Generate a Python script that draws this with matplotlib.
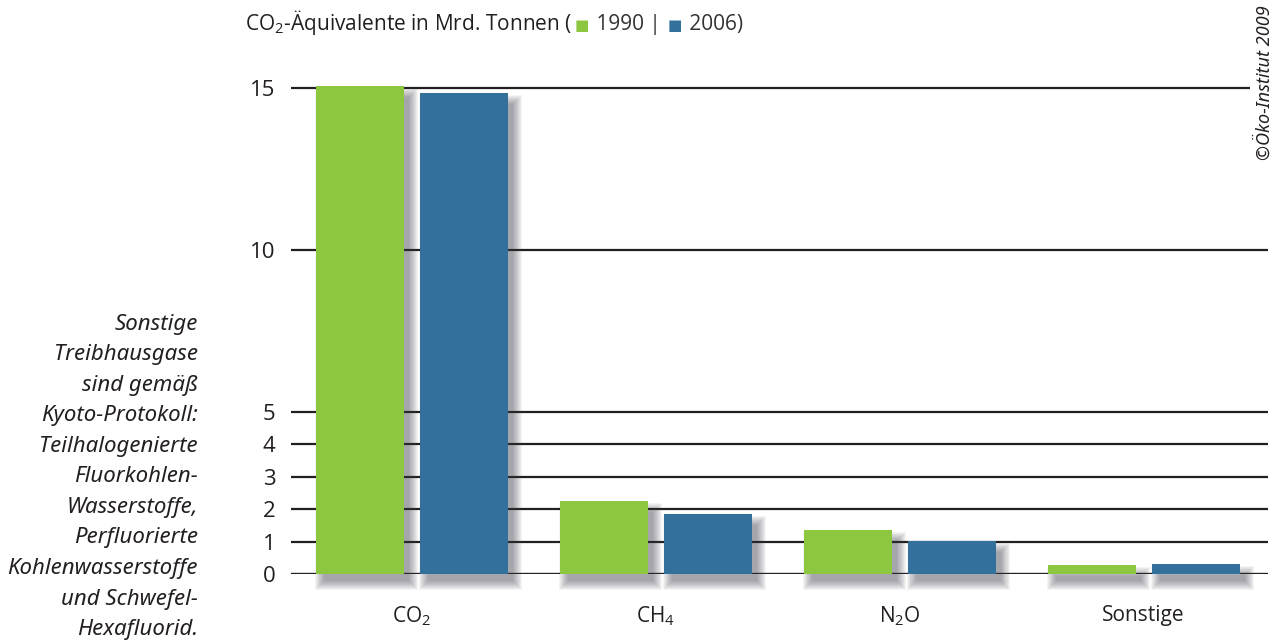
import numpy as np
import matplotlib
matplotlib.use('Agg')
import matplotlib.pyplot as plt
from matplotlib.patches import Rectangle

# data
categories = ['CO$_\\mathrm{2}$', 'CH$_\\mathrm{4}$', 'N$_\\mathrm{2}$O', 'Sonstige']
years = ['1990', '2006']
values_1990 = [15.06, 2.25, 1.36, 0.28]
values_2006 = [14.84, 1.85, 1.02, 0.31]
yticks = [0, 1, 2, 3, 4, 5, 10, 15]
side_note = ['Sonstige', 'Treibhausgase', 'sind gemäß', 'Kyoto-Protokoll:',
             'Teilhalogenierte', 'Fluorkohlen-', 'Wasserstoffe,', 'Perfluorierte',
             'Kohlenwasserstoffe', 'und Schwefel-', 'Hexafluorid.']

c_green = '#8dc63f'
c_blue = '#33709b'
c_dark = '#231f20'

plt.rcParams['font.family'] = ['Open Sans', 'DejaVu Sans']
plt.rcParams['mathtext.fontset'] = 'custom'
plt.rcParams['mathtext.rm'] = 'Open Sans'
plt.rcParams['mathtext.it'] = 'Open Sans:italic'
plt.rcParams['mathtext.bf'] = 'Open Sans:bold'

W, H = 1276, 641
fig = plt.figure(figsize=(W / 100, H / 100), dpi=100)

# axes in pixel terms
x0px, x1px = 291, 1268
y0px = 574
pxy = 32.4           # pixel per unit
ytop = 15.5
ax = fig.add_axes([x0px / W, (H - y0px) / H, (x1px - x0px) / W, ytop * pxy / H])

spacing = 244.0      # group spacing in px
xl = (x0px - 411.5) / spacing
xr = (x1px - 411.5) / spacing
ax.set_xlim(xl, xr)
ax.set_ylim(0, ytop)

width = 88 / spacing
off = 52 / spacing
x = np.arange(len(categories))

# gridlines
for t in yticks:
    ax.axhline(t, color=c_dark, lw=2.4 if t == 0 else 1.6, zorder=1)

# soft drop shadows
def shadow(xc, h):
    dx = 5 / spacing
    dy = 7 / pxy
    for k in range(10):
        gx = k / spacing
        gy = k / pxy
        r = Rectangle((xc - width / 2 + dx - gx + 3 / spacing, -dy - gy),
                      width + 2 * gx - 3 / spacing, h + 2 * gy - 4 / pxy,
                      facecolor='#3a3a48', edgecolor='none', alpha=0.055,
                      zorder=2, clip_on=False)
        ax.add_patch(r)

for i in x:
    shadow(i - off, values_1990[i])
    shadow(i + off, values_2006[i])

ax.bar(x - off, values_1990, width, color=c_green, zorder=3, label=years[0])
ax.bar(x + off, values_2006, width, color=c_blue, zorder=3, label=years[1])

for s in ax.spines.values():
    s.set_visible(False)
ax.set_yticks(yticks)
ax.set_yticklabels([str(t) for t in yticks], fontsize=16, color=c_dark,
                   fontweight='medium')
ax.tick_params(axis='y', length=0, pad=11)
ax.set_xticks(x)
ax.set_xticklabels(categories, fontsize=15, color=c_dark)
ax.tick_params(axis='x', length=0, pad=22)

# title built from pieces
pieces = [('CO$_\\mathrm{2}$-Äquivalente in Mrd. Tonnen (', c_dark),
          ('■', c_green), (' 1990 | ', '#333333'),
          ('■', c_blue), (' 2006)', '#333333')]
renderer = fig.canvas.get_renderer()
xpos = 245
for txt, col in pieces:
    fs = 11 if txt == '■' else 15
    t = fig.text(xpos / W, 1 - 30 / H, txt, fontsize=fs, color=col,
                 va='baseline', ha='left')
    bb = t.get_window_extent(renderer)
    xpos = bb.x1 + 2

# side note, right aligned
for i, line in enumerate(side_note):
    fig.text(198 / W, 1 - (330 + i * 30.5) / H, line, fontsize=16,
             style='italic', color=c_dark, ha='right', va='baseline',
             family=['Noto Sans', 'DejaVu Sans'])

# copyright
fig.text(1265 / W, 1 - 5 / H, '©Öko-Institut 2009', rotation=90, fontsize=13,
         style='italic', color=c_dark, ha='center', va='top',
         family=['Noto Sans', 'DejaVu Sans'],
         bbox=dict(facecolor='white', edgecolor='none', pad=4))

fig.savefig('out.png', dpi=100, facecolor='white')
